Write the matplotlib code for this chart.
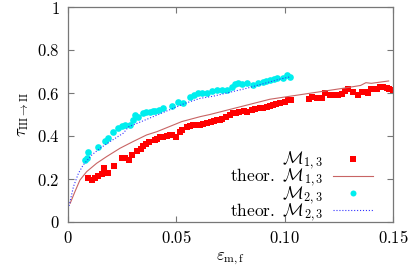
import matplotlib
matplotlib.use("Agg")
import matplotlib.pyplot as plt
from matplotlib.ticker import FixedLocator

plt.rcParams['mathtext.fontset'] = 'cm'
plt.rcParams['font.family'] = ['DejaVu Serif']

# data: M_{1,3}
eps_13 = [0.0094, 0.0109, 0.0125, 0.0140, 0.0155, 0.0165, 0.0185, 0.0210, 0.0248, 0.0265,
          0.0280, 0.0294, 0.0320, 0.0335, 0.0346, 0.0360, 0.0372, 0.0400, 0.0410, 0.0425,
          0.0440, 0.0455, 0.0470, 0.0480, 0.0500, 0.0515, 0.0525, 0.0548, 0.0565, 0.0577,
          0.0595, 0.0610, 0.0625, 0.0640, 0.0660, 0.0675, 0.0686, 0.0700, 0.0710, 0.0730,
          0.0748, 0.0763, 0.0775, 0.0790, 0.0810, 0.0825, 0.0848, 0.0865, 0.0886, 0.0900,
          0.0917, 0.0930, 0.0946, 0.0960, 0.0978, 0.1000, 0.1017, 0.1030, 0.1110, 0.1125,
          0.1150, 0.1170, 0.1187, 0.1210, 0.1230, 0.1245, 0.1263, 0.1280, 0.1294, 0.1317,
          0.1340, 0.1355, 0.1370, 0.1386, 0.1400, 0.1410, 0.1425, 0.1440, 0.1455, 0.1470,
          0.1480, 0.1500]
tau_13 = [0.203, 0.195, 0.205, 0.215, 0.222, 0.250, 0.227, 0.260, 0.296, 0.300,
          0.290, 0.310, 0.330, 0.340, 0.353, 0.365, 0.374, 0.380, 0.385, 0.394,
          0.397, 0.400, 0.403, 0.405, 0.397, 0.420, 0.428, 0.443, 0.448, 0.451,
          0.450, 0.451, 0.455, 0.459, 0.465, 0.470, 0.474, 0.476, 0.478, 0.488,
          0.498, 0.507, 0.505, 0.513, 0.515, 0.513, 0.520, 0.525, 0.530, 0.528,
          0.536, 0.540, 0.544, 0.548, 0.553, 0.560, 0.567, 0.567, 0.571, 0.583,
          0.578, 0.578, 0.599, 0.591, 0.593, 0.591, 0.597, 0.610, 0.617, 0.606,
          0.591, 0.606, 0.604, 0.600, 0.620, 0.617, 0.617, 0.629, 0.626, 0.622,
          0.617, 0.614]

# data: M_{2,3}
eps_23 = [0.0078, 0.0086, 0.0094, 0.0140, 0.0170, 0.0185, 0.0208, 0.0230, 0.0250, 0.0263,
          0.0286, 0.0300, 0.0310, 0.0325, 0.0346, 0.0362, 0.0378, 0.0390, 0.0400, 0.0420,
          0.0440, 0.0480, 0.0508, 0.0530, 0.0563, 0.0580, 0.0600, 0.0620, 0.0640, 0.0665,
          0.0688, 0.0710, 0.0734, 0.0757, 0.0770, 0.0785, 0.0805, 0.0826, 0.0854, 0.0875,
          0.0900, 0.0915, 0.0932, 0.0950, 0.0965, 0.0990, 0.1010, 0.1025]
tau_23 = [0.288, 0.300, 0.327, 0.350, 0.377, 0.390, 0.420, 0.439, 0.448, 0.451,
          0.451, 0.475, 0.498, 0.490, 0.507, 0.510, 0.513, 0.515, 0.516, 0.522,
          0.530, 0.540, 0.560, 0.553, 0.583, 0.590, 0.600, 0.598, 0.600, 0.607,
          0.614, 0.612, 0.614, 0.630, 0.640, 0.646, 0.643, 0.646, 0.637, 0.645,
          0.653, 0.656, 0.660, 0.665, 0.670, 0.670, 0.684, 0.674]

# theory curves
eps_th13 = [0.001, 0.0032, 0.0055, 0.0086, 0.0132, 0.0178, 0.024, 0.030, 0.0363, 0.041,
            0.0525, 0.061, 0.0655, 0.0932, 0.127, 0.135, 0.1375, 0.140, 0.148]
tau_th13 = [0.087, 0.141, 0.195, 0.234, 0.273, 0.304, 0.343, 0.374, 0.405, 0.420,
            0.467, 0.490, 0.500, 0.571, 0.622, 0.635, 0.648, 0.645, 0.656]
eps_th23 = [0.0005, 0.0025, 0.0048, 0.007, 0.011, 0.0148, 0.0194, 0.0255, 0.028, 0.0355,
            0.0448, 0.054, 0.061, 0.067, 0.0825, 0.098, 0.1025]
tau_th23 = [0.075, 0.164, 0.226, 0.265, 0.312, 0.343, 0.374, 0.413, 0.443, 0.474,
            0.513, 0.552, 0.575, 0.585, 0.622, 0.665, 0.675]

xticks = [0, 0.05, 0.10, 0.15]
xticklabels = ['0', '0.05', '0.10', '0.15']
yticks = [0, 0.2, 0.4, 0.6, 0.8, 1.0]
yticklabels = ['0', '0.2', '0.4', '0.6', '0.8', '1']

fig = plt.figure(figsize=(4.19, 2.71), dpi=100)
ax = fig.add_axes([68/419, 49/271, 325/419, 215/271])

ax.plot(eps_13, tau_13, 's', color='#ff0000', markersize=4.8, markeredgewidth=0,
        label=r'$\mathcal{M}_{1,3}$')
ax.plot(eps_th13, tau_th13, '-', color='#c86464', linewidth=0.8,
        label=r'$\mathrm{theor.}\ \mathcal{M}_{1,3}$')
ax.plot(eps_23, tau_23, 'o', color='#00eeee', markersize=4.8, markeredgewidth=0,
        label=r'$\mathcal{M}_{2,3}$')
ax.plot(eps_th23, tau_th23, ':', color='#3333ff', linewidth=0.8,
        label=r'$\mathrm{theor.}\ \mathcal{M}_{2,3}$')

ax.set_xlim(0, 0.15)
ax.set_ylim(0, 1)
ax.xaxis.set_major_locator(FixedLocator(xticks))
ax.yaxis.set_major_locator(FixedLocator(yticks))
ax.set_xticklabels(['$' + t + '$' for t in xticklabels])
ax.set_yticklabels(['$' + t + '$' for t in yticklabels])
ax.tick_params(direction='in', top=True, right=True, length=4, width=0.8,
               color='#777777', labelsize=12, pad=6)
for s in ax.spines.values():
    s.set_color('#777777')
    s.set_linewidth(0.9)

ax.set_xlabel(r'$\varepsilon_{\mathrm{m,f}}$', fontsize=12, labelpad=2)
ax.set_ylabel(r'$\tau_{\mathrm{III}\to\mathrm{II}}$', fontsize=12, labelpad=4)

leg = ax.legend(loc='lower right', bbox_to_anchor=(0.975, -0.065), frameon=False,
                markerfirst=False, fontsize=12.5, handlelength=2.3,
                labelspacing=-0.3, handletextpad=0.55, borderpad=0.2,
                numpoints=1, markerscale=0.9)
for t in leg.get_texts():
    t.set_ha('right')

fig.savefig('out.png', dpi=100)
